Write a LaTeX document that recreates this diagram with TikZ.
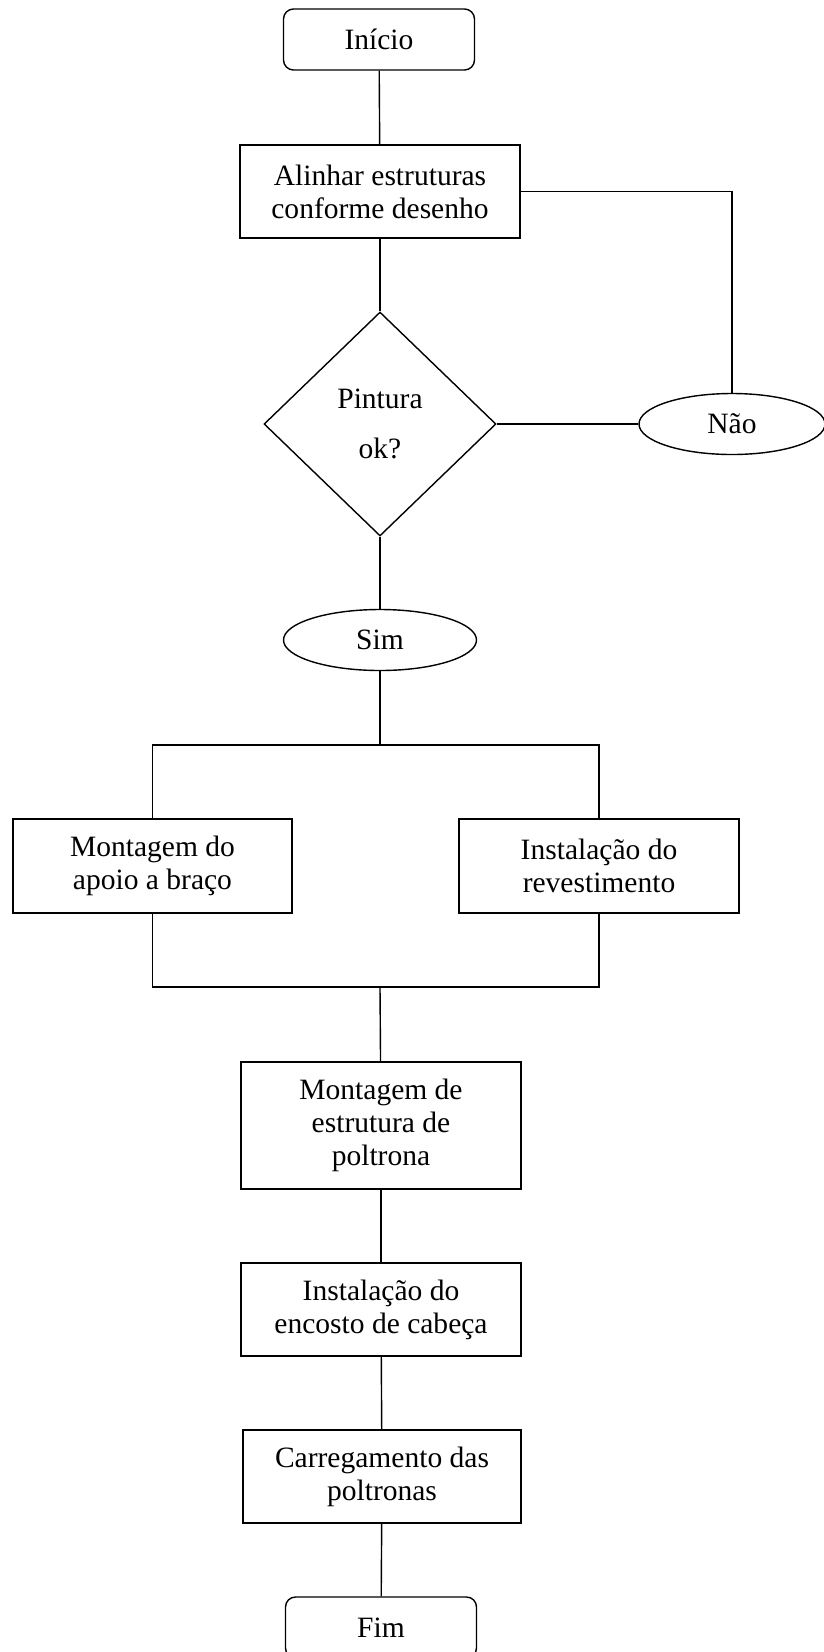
\documentclass[tikz,border=0pt]{standalone}
\usepackage{fontspec}
\setmainfont{Liberation Serif}
\usetikzlibrary{shapes.geometric}

\begin{document}
\begin{tikzpicture}[line width=0.8pt,
    every node/.style = {font=\fontsize{16.8}{18.8}\selectfont, align=center, inner sep=0pt},
    term/.style = {draw, rounded corners=0.2cm, minimum width=3.82cm, minimum height=1.22cm},
    box/.style = {draw, minimum width=5.6cm, minimum height=1.86cm},
    dec/.style = {draw, diamond, minimum width=4.64cm, minimum height=4.48cm},
    oval/.style = {draw, ellipse, minimum width=3.8cm, minimum height=1.22cm}]

            \useasboundingbox (0,0) rectangle (16.48,-33.04);

            % Nodes
            \node[term] (ini) at (7.58,-0.79) {Início};
            \node[box] (alin) at (7.6,-3.83) {Alinhar estruturas\\conforme desenho};
            \node[dec] (pint) at (7.6,-8.48) {Pintura\\[9.5pt]ok?};
            \node[oval, minimum width=3.72cm] (nao) at (14.64,-8.48) {Não};
            \node[oval, minimum width=3.86cm] (sim) at (7.6,-12.8) {Sim};
            \coordinate (split) at (7.6,-14.9);
            \node[box, minimum width=5.58cm, minimum height=1.88cm] (apoio) at (3.05,-17.32) {Montagem do\\apoio a braço};
            \node[box, minimum height=1.88cm] (rev) at (11.98,-17.32) {Instalação do\\revestimento};
            \coordinate (merge) at (7.6,-19.74);
            \node[box, minimum height=2.54cm] (estr) at (7.62,-22.51) {Montagem de\\estrutura de\\poltrona};
            \node[box] (enc) at (7.62,-26.19) {Instalação do\\encosto de cabeça};
            \node[box, minimum width=5.56cm] (carr) at (7.64,-29.53) {Carregamento das\\poltronas};
            \node[term] (fim) at (7.62,-32.55) {Fim};

            % Edges
            \draw (ini) -- (alin);
            \draw (alin) -- (pint);
            \draw (pint) -- (nao);
            \draw (nao) |- (alin);
            \draw (pint) -- (sim);
            \draw (sim) -- (split);
            \draw (split) -| (apoio);
            \draw (split) -| (rev);
            \draw (apoio) |- (merge);
            \draw (rev) |- (merge);
            \draw (merge) -- (estr);
            \draw (estr) -- (enc);
            \draw (enc) -- (carr);
            \draw (carr) -- (fim);
        \end{tikzpicture}
\end{document}
